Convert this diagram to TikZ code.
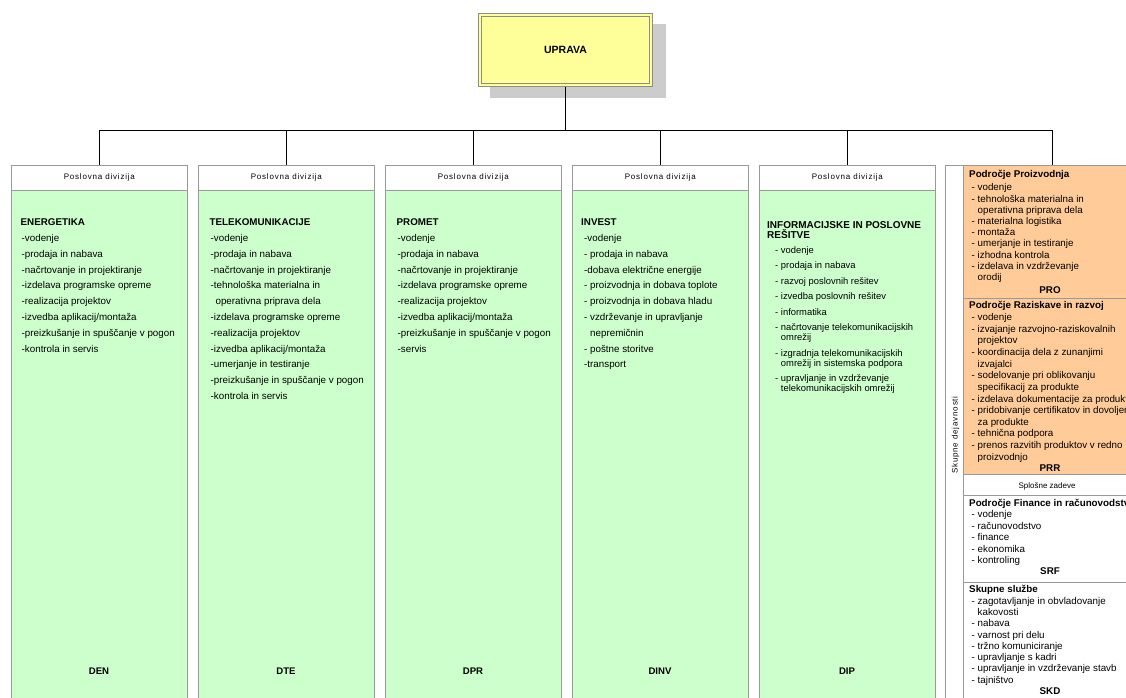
\documentclass[tikz,border=0pt]{standalone}
\usepackage{fontspec}
\setmainfont{Liberation Sans}
\newfontfamily\hdrfont[LetterSpace=10]{Liberation Sans}
\definecolor{divgreen}{HTML}{CCFFCC}
\definecolor{prorange}{HTML}{FFCC99}
\definecolor{upryellow}{HTML}{FFFF99}
\definecolor{boxgray}{HTML}{999999}
\definecolor{uprgray}{HTML}{8C8C8C}
\definecolor{shadowgray}{HTML}{CCCCCC}
\begin{document}
\begin{tikzpicture}[x=1pt,y=-1pt,
  conn/.style={draw=black, line width=0.8pt},
  uprbox/.style={draw=uprgray, line width=0.9pt,
    fill=upryellow, minimum width=174pt, minimum height=73pt, inner sep=0,
    font=\fontsize{10.5}{12}\selectfont\bfseries},
  uprinner/.style={draw=uprgray, line width=0.6pt, minimum width=168pt, minimum height=67pt, inner sep=0},
  hdrbox/.style={draw=boxgray, fill=white, line width=0.7pt, minimum width=176pt,
    minimum height=25pt, inner sep=0, anchor=north west,
    font=\hdrfont\fontsize{8}{9.6}\selectfont},
  bodybox/.style={draw=boxgray, fill=divgreen, line width=0.7pt, minimum width=176pt,
    minimum height=530pt, inner sep=0, anchor=north west},
  coltext/.style={anchor=north west, align=left, inner sep=0,
    font=\fontsize{9.8}{15.8}\selectfont},
  codelbl/.style={anchor=base, inner sep=0, font=\fontsize{9.6}{11}\selectfont\bfseries},
  sect/.style={draw=boxgray, line width=0.7pt, anchor=north west, minimum width=196pt, inner sep=0},
  rptext/.style={anchor=north west, align=left, inner sep=0},
  smalltxt/.style={inner sep=0, font=\fontsize{8}{9.6}\selectfont}
]
\clip (0,0) rectangle (1126,698);
\fill[white] (0,0) rectangle (1126,698);

% top box
\fill[shadowgray] (490,24) rectangle (666,98);
\node[uprbox] (upr) at (565.5,50) {};
\node[uprinner, font=\fontsize{10.5}{12}\selectfont\bfseries] (uprt) at (upr.center) {UPRAVA};

% division columns
\foreach \i/\L/\code in {1/11/DEN,2/198/DTE,3/385/DPR,4/572/DINV,5/759/DIP}{
  \node[hdrbox] (h\i) at (\L,165) {Poslovna divizija};
  \node[bodybox] (b\i) at (\L,190) {};
  \node[codelbl] (c\i) at (\L+88,674.5) {\code};
}

% right panel
\node[draw=boxgray, fill=white, line width=0.7pt, anchor=north west,
  minimum width=214pt, minimum height=555pt, inner sep=0] (rp) at (945,165) {};
\node[sect, fill=prorange, minimum height=133pt] (spro) at (963,165) {};
\node[sect, fill=prorange, minimum height=176pt] (sprr) at (963,298) {};
\node[sect, fill=white, minimum height=21pt] (sspl) at (963,474) {};
\node[sect, fill=white, minimum height=87pt] (ssrf) at (963,495) {};
\node[sect, fill=white, minimum height=138pt] (sskd) at (963,582) {};
\node[inner sep=0, rotate=90, font=\hdrfont\fontsize{8}{9.6}\selectfont] (sdj) at (955.5,435) {Skupne dejavnosti};

% connectors
\coordinate (bus) at (566,130);
\foreach \n in {h1,h2,h3,h4,h5,rp}{
  \draw[conn] (upr.south) -- (upr.south |- bus) -| (\n.north);
}

% column texts
\node[coltext] (t1) at (20.5,218.3) {\rule{0pt}{7.2pt}\textbf{ENERGETIKA}\\
\hspace*{1pt}-vodenje\\
\hspace*{1pt}-prodaja in nabava\\
\hspace*{1pt}-načrtovanje in projektiranje\\
\hspace*{1pt}-izdelava programske opreme\\
\hspace*{1pt}-realizacija projektov\\
\hspace*{1pt}-izvedba aplikacij/montaža\\
\hspace*{1pt}-preizkušanje in spuščanje v pogon\\
\hspace*{1pt}-kontrola in servis};

\node[coltext] (t2) at (209.5,218.3) {\rule{0pt}{7.2pt}\textbf{TELEKOMUNIKACIJE}\\
\hspace*{1pt}-vodenje\\
\hspace*{1pt}-prodaja in nabava\\
\hspace*{1pt}-načrtovanje in projektiranje\\
\hspace*{1pt}-tehnološka  materialna in\\
\hspace*{1pt}\phantom{-}\,operativna priprava dela\\
\hspace*{1pt}-izdelava programske opreme\\
\hspace*{1pt}-realizacija projektov\\
\hspace*{1pt}-izvedba aplikacij/montaža\\
\hspace*{1pt}-umerjanje in testiranje\\
\hspace*{1pt}-preizkušanje in spuščanje v pogon\\
\hspace*{1pt}-kontrola in servis};

\node[coltext] (t3) at (396.5,218.3) {\rule{0pt}{7.2pt}\textbf{PROMET}\\
\hspace*{1pt}-vodenje\\
\hspace*{1pt}-prodaja in nabava\\
\hspace*{1pt}-načrtovanje in projektiranje\\
\hspace*{1pt}-izdelava programske opreme\\
\hspace*{1pt}-realizacija projektov\\
\hspace*{1pt}-izvedba aplikacij/montaža\\
\hspace*{1pt}-preizkušanje in spuščanje v pogon\\
\hspace*{1pt}-servis};

\node[coltext] (t4) at (581,218.3) {\rule{0pt}{7.2pt}\textbf{INVEST}\\
\hspace*{3pt}-vodenje\\
\hspace*{3pt}- prodaja in nabava\\
\hspace*{3pt}-dobava električne energije\\
\hspace*{3pt}- proizvodnja in dobava toplote\\
\hspace*{3pt}- proizvodnja in dobava hladu\\
\hspace*{3pt}- vzdrževanje in upravljanje\\
\hspace*{3pt}\phantom{- }nepremičnin\\
\hspace*{3pt}- poštne storitve\\
\hspace*{3pt}-transport};

\node[coltext, font=\fontsize{9.4}{10}\selectfont] (t5) at (767,221.3) {\rule{0pt}{7.2pt}{\fontsize{10}{10}\selectfont\bfseries INFORMACIJSKE IN POSLOVNE}\\
{\fontsize{10}{10}\selectfont\bfseries REŠITVE}\\[4.5pt]
\hspace*{8pt}- vodenje\\[5.5pt]
\hspace*{8pt}- prodaja in nabava\\[5.5pt]
\hspace*{8pt}- razvoj poslovnih rešitev\\[5.5pt]
\hspace*{8pt}- izvedba poslovnih rešitev\\[5.5pt]
\hspace*{8pt}- informatika\\[5.5pt]
\hspace*{8pt}- načrtovanje telekomunikacijskih\\
\hspace*{8pt}\phantom{- }omrežij\\[5.5pt]
\hspace*{8pt}- izgradnja telekomunikacijskih\\
\hspace*{8pt}\phantom{- }omrežij in sistemska podpora\\[5.5pt]
\hspace*{8pt}- upravljanje in vzdrževanje\\
\hspace*{8pt}\phantom{- }telekomunikacijskih omrežij};

% right panel texts
\node[rptext, font=\fontsize{9.8}{11.2}\selectfont] (tpro) at (969,170.3) {\rule{0pt}{7.2pt}\textbf{Področje Proizvodnja}\\[1.8pt]
\hspace*{2.5pt}- vodenje\\
\hspace*{2.5pt}- tehnološka materialna in\\
\hspace*{2.5pt}\phantom{- }operativna priprava dela\\
\hspace*{2.5pt}- materialna logistika\\
\hspace*{2.5pt}- montaža\\
\hspace*{2.5pt}- umerjanje in testiranje\\
\hspace*{2.5pt}- izhodna kontrola\\
\hspace*{2.5pt}- izdelava in vzdrževanje\\
\hspace*{2.5pt}\phantom{- }orodij};
\node[codelbl, font=\fontsize{9.8}{11}\selectfont\bfseries] (cpro) at (1050,293.5) {PRO};

\node[rptext, font=\fontsize{9.8}{11.65}\selectfont] (tprr) at (969,301.3) {\rule{0pt}{7.2pt}\textbf{Področje Raziskave in razvoj}\\
\hspace*{2.5pt}- vodenje\\
\hspace*{2.5pt}- izvajanje razvojno-raziskovalnih\\
\hspace*{2.5pt}\phantom{- }projektov\\
\hspace*{2.5pt}- koordinacija dela z zunanjimi\\
\hspace*{2.5pt}\phantom{- }izvajalci\\
\hspace*{2.5pt}- sodelovanje pri oblikovanju\\
\hspace*{2.5pt}\phantom{- }specifikacij za produkte\\
\hspace*{2.5pt}- izdelava dokumentacije za produkte\\
\hspace*{2.5pt}- pridobivanje certifikatov in dovoljenj\\
\hspace*{2.5pt}\phantom{- }za produkte\\
\hspace*{2.5pt}- tehnična podpora\\
\hspace*{2.5pt}- prenos razvitih produktov v redno\\
\hspace*{2.5pt}\phantom{- }proizvodnjo};
\node[codelbl, font=\fontsize{9.8}{11}\selectfont\bfseries] (cprr) at (1050,471.5) {PRR};

\node[smalltxt, anchor=base] (tspl) at (1047,488) {Splošne zadeve};

\node[rptext, font=\fontsize{9.8}{11.5}\selectfont] (tsrf) at (969,498.8) {\rule{0pt}{7.2pt}\textbf{Področje Finance in računovodstva}\\
\hspace*{2.5pt}- vodenje\\
\hspace*{2.5pt}- računovodstvo\\
\hspace*{2.5pt}- finance\\
\hspace*{2.5pt}- ekonomika\\
\hspace*{2.5pt}- kontroling};
\node[codelbl, font=\fontsize{9.8}{11}\selectfont\bfseries] (csrf) at (1050,574) {SRF};

\node[rptext, font=\fontsize{9.8}{11.3}\selectfont] (tskd) at (969,585.3) {\rule{0pt}{7.2pt}\textbf{Skupne službe}\\
\hspace*{2.5pt}- zagotavljanje in obvladovanje\\
\hspace*{2.5pt}\phantom{- }kakovosti\\
\hspace*{2.5pt}- nabava\\
\hspace*{2.5pt}- varnost pri delu\\
\hspace*{2.5pt}- tržno komuniciranje\\
\hspace*{2.5pt}- upravljanje s kadri\\
\hspace*{2.5pt}- upravljanje in vzdrževanje stavb\\
\hspace*{2.5pt}- tajništvo};
\node[codelbl, font=\fontsize{9.8}{11}\selectfont\bfseries] (cskd) at (1050,694.5) {SKD};
\end{tikzpicture}
\end{document}
